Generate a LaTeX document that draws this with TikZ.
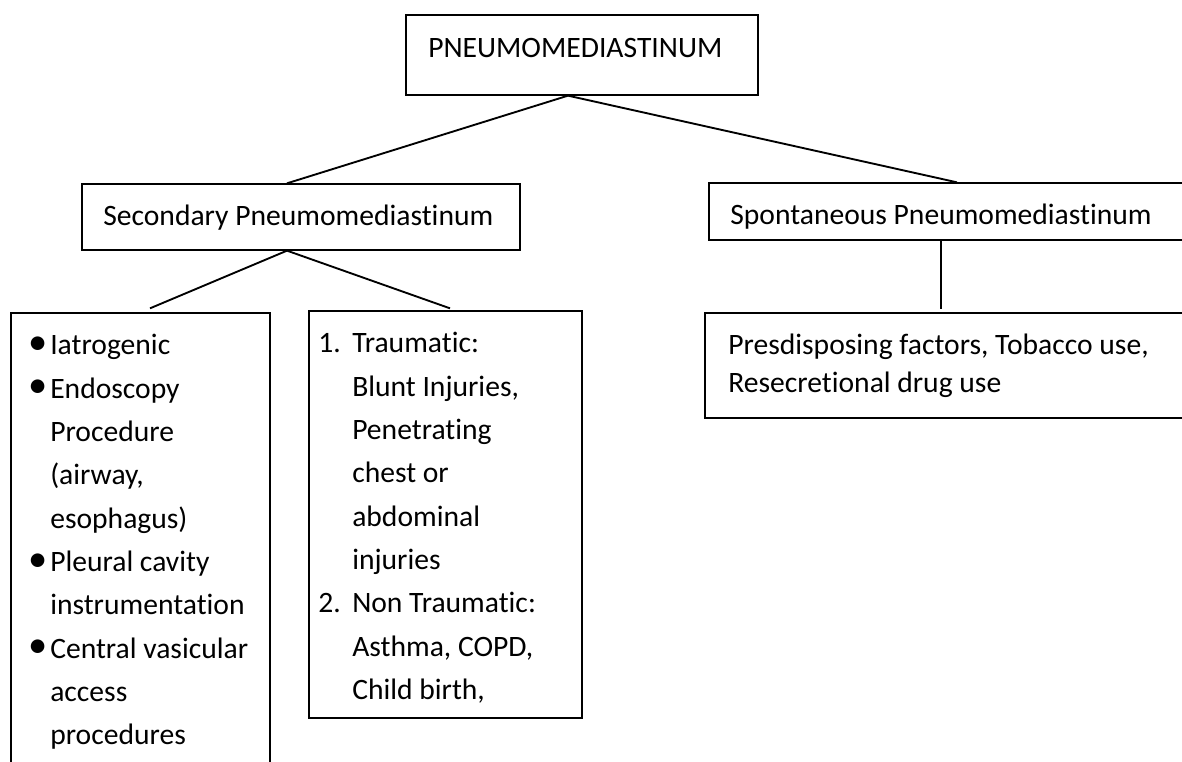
\documentclass[tikz,border=0pt]{standalone}
\usepackage{fontspec}
\setmainfont{Carlito}[Ligatures={NoCommon}]
\usetikzlibrary{fit}
\newcommand\blt{\makebox[16.5pt][l]{\raisebox{0.3pt}{\scalebox{1.3}{•}}}}
\newcommand\bind{\hspace*{16.5pt}}
\newcommand\numit[1]{\makebox[25.5pt][l]{#1}}
\newcommand\nind{\hspace*{25.5pt}}
\newcommand\lines[1]{\begin{tabular}[t]{@{}l@{}}#1\end{tabular}}
\begin{document}
\begin{tikzpicture}[x=0.75pt,y=-0.75pt,
  box/.style={draw=black,line width=1pt,inner sep=0pt,rectangle},
  conn/.style={draw=black,line width=1.4pt},
  txt/.style={inner sep=0pt,anchor=base west,font=\fontsize{22.2}{32.5}\selectfont},
  txtsingle/.style={inner sep=0pt,anchor=base west,font=\fontsize{22.2}{28.5}\selectfont}]
\useasboundingbox[fill=white] (0,0) rectangle (1182,762);
% boxes
\node[box,fit={(406,15) (758,95)}] (top) {};
\node[box,fit={(82,184) (520,250)}] (sec) {};
\node[box,fit={(709,183) (1205,240)}] (spon) {};
\node[box,fit={(11,313) (270,800)}] (lbox) {};
\node[box,fit={(309,311) (582,718)}] (mbox) {};
\node[box,fit={(705,313) (1205,418)}] (rbox) {};
% texts
\node[txt] (ttop) at (428,58) {PNEUMOMEDIASTINUM};
\node[txt] (tsec) at (103,226) {Secondary Pneumomediastinum};
\node[txt] (tspon) at (730,225) {Spontaneous Pneumomediastinum};
\node[txt] (tl) at (28,355) {\lines{\blt Iatrogenic\\ \blt Endoscopy\\ \bind Procedure\\ \bind (airway,\\ \bind esophagus)\\ \blt Pleural cavity\\ \bind instrumentation\\ \blt Central vasicular\\ \bind access\\ \bind procedures}};
\node[txt] (tm) at (318,353) {\lines{\numit{1.}Traumatic:\\ \nind Blunt Injuries,\\ \nind Penetrating\\ \nind chest or\\ \nind abdominal\\ \nind injuries\\ \numit{2.}Non Traumatic:\\ \nind Asthma, COPD,\\ \nind Child birth,}};
\node[txtsingle] (tr) at (728,355) {\lines{Presdisposing factors, Tobacco use,\\ Resecretional drug use}};
% connectors
\coordinate (vx) at (941,0);
\draw[conn] ([xshift=-10.5pt]top.south) -- ([xshift=-10.5pt]sec.north);
\draw[conn] ([xshift=-10.5pt]top.south) -- ([xshift=0pt]spon.north);
\draw[conn] ([xshift=-10.5pt]sec.south) -- ([shift={(9.5,-4)}]lbox.north);
\draw[conn] ([xshift=-10.5pt]sec.south) -- ([shift={(4.5,-2)}]mbox.north);
\draw[conn] (spon.south -| vx) -- ([yshift=2.25pt]rbox.north -| vx);
\end{tikzpicture}
\end{document}
